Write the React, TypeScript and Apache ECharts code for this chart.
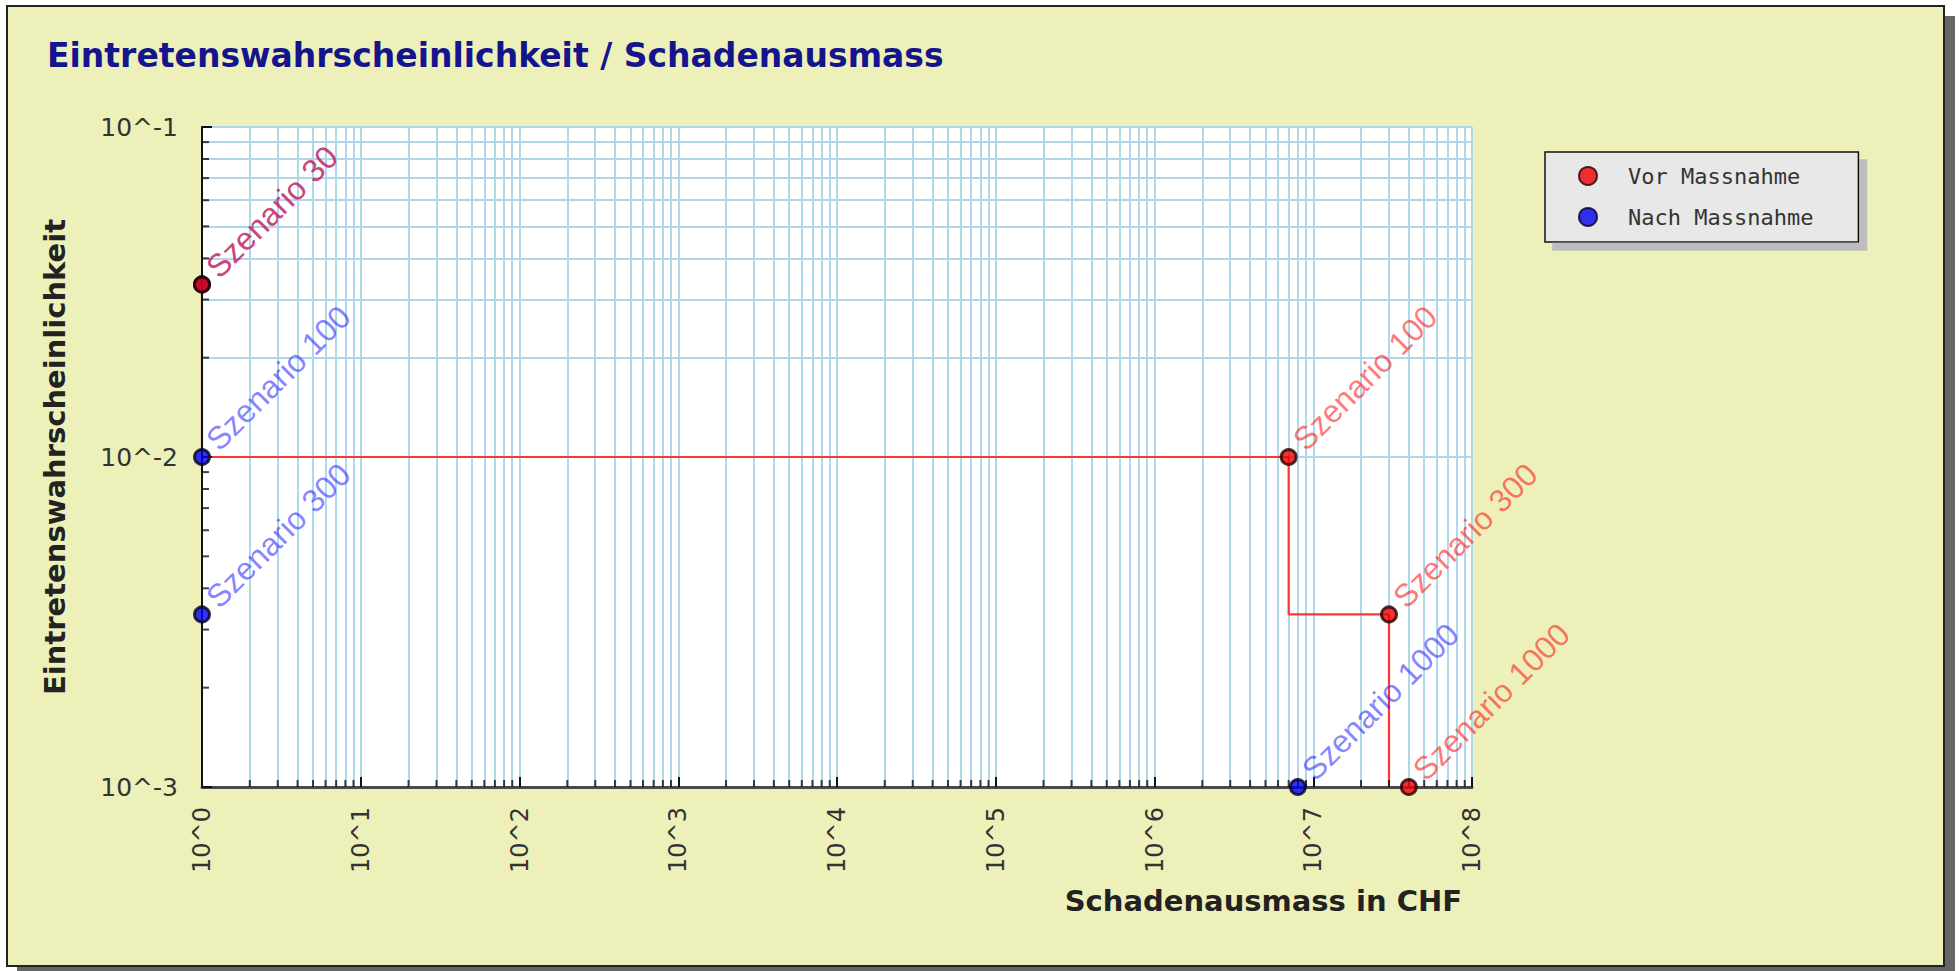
import React, { useEffect, useRef } from "react";
import * as echarts from "echarts";

// ---- data ----
const scenarios = ["Szenario 30", "Szenario 100", "Szenario 300", "Szenario 1000"];
const probability = [1 / 30, 1 / 100, 1 / 300, 1 / 1000];
const damageBefore = [1, 7.0e6, 3.0e7, 4.0e7];
const damageAfter = [1, 1, 1, 8.0e6];

const xDecades = [1, 10, 100, 1e3, 1e4, 1e5, 1e6, 1e7, 1e8];
const xTickLabels = ["10^0", "10^1", "10^2", "10^3", "10^4", "10^5", "10^6", "10^7", "10^8"];
const yDecades = [0.001, 0.01, 0.1];
const yTickLabels = ["10^-3", "10^-2", "10^-1"];
const minorSteps = [2, 3, 4, 5, 6, 7, 8, 9];

const xMinor = xDecades.slice(0, -1).flatMap((d) => minorSteps.map((s) => s * d));
const yMinor = yDecades.slice(0, -1).flatMap((d) => minorSteps.map((s) => s * d));

const labelFor = (decades: number[], labels: string[]) => (v: number) => {
  let best = 0;
  for (let i = 0; i < decades.length; i++) {
    if (Math.abs(Math.log10(decades[i]) - Math.log10(v)) < Math.abs(Math.log10(decades[best]) - Math.log10(v))) best = i;
  }
  return labels[best];
};

export default function App() {
  const ref = useRef<HTMLDivElement>(null);
  useEffect(() => {
    if (!ref.current) return;
    const chart = echarts.init(ref.current, undefined, { renderer: "svg" });
    const gridColor = "#acd8e8";
    const pointLabel = (color: string) => ({
      show: true,
      formatter: "{b}",
      position: [30, 8],
      rotate: 45,
      align: "left",
      verticalAlign: "bottom",
      color,
      fontFamily: "Liberation Sans",
      fontSize: 32,
    });
    chart.setOption({
      animation: false,
      backgroundColor: "#ffffff",
      title: {
        text: "Eintretenswahrscheinlichkeit / Schadenausmass",
        left: 47,
        top: 39,
        padding: 0,
        textStyle: { color: "#14148c", fontFamily: "DejaVu Sans", fontWeight: "bold", fontSize: 33 },
      },
      graphic: [
        { type: "rect", z: -10, silent: true, shape: { x: 17, y: 16, width: 1938, height: 960 }, style: { fill: "#666666" } },
        {
          type: "rect",
          z: -9,
          silent: true,
          shape: { x: 7, y: 6, width: 1937, height: 960 },
          style: { fill: "#edf1b9", stroke: "#222222", lineWidth: 2 },
        },
      ],
      legend: {
        orient: "vertical",
        left: 1545,
        top: 152,
        data: ["Vor Massnahme", "Nach Massnahme"],
        icon: "circle",
        itemWidth: 18,
        itemHeight: 18,
        itemGap: 17,
        padding: [12, 45, 13, 33],
        backgroundColor: "#e8e8e8",
        borderColor: "#111111",
        borderWidth: 1.5,
        borderRadius: 0,
        shadowColor: "#bdbdbd",
        shadowBlur: 0,
        shadowOffsetX: 8,
        shadowOffsetY: 8,
        textStyle: {
          fontFamily: "DejaVu Sans Mono",
          fontSize: 22,
          lineHeight: 24,
          color: "#333333",
          padding: [0, 0, 0, 26],
        },
      },
      grid: { left: 202, top: 127, width: 1270, height: 660, show: true, backgroundColor: "#ffffff", borderWidth: 0, containLabel: false, outerBoundsMode: "none" },
      xAxis: {
        type: "log",
        logBase: 10,
        min: 1,
        max: 1e8,
        splitNumber: 8,
        z: 3,
        name: "Schadenausmass in CHF",
        nameLocation: "end",
        nameGap: -10,
        nameMoveOverlap: false,
        nameTextStyle: {
          align: "right",
          verticalAlign: "top",
          padding: [99, 0, 0, 0],
          fontFamily: "DejaVu Sans",
          fontWeight: "bold",
          fontSize: 29,
          color: "#222222",
        },
        axisLine: { show: true, lineStyle: { color: "#4a4a4a", width: 3 } },
        axisTick: { show: true, inside: true, length: 10, customValues: xDecades, lineStyle: { color: "#111111", width: 2 } },
        axisLabel: {
          customValues: xDecades,
          rotate: 90,
          margin: 20,
          formatter: labelFor(xDecades, xTickLabels),
          fontFamily: "DejaVu Sans",
          fontSize: 24,
          color: "#333333",
        },
        splitLine: { show: false },
      },
      yAxis: {
        type: "log",
        logBase: 10,
        min: 0.001,
        max: 0.1,
        splitNumber: 2,
        z: 3,
        name: "Eintretenswahrscheinlichkeit",
        nameLocation: "middle",
        nameRotate: 90,
        nameGap: 133,
        nameTextStyle: { fontFamily: "DejaVu Sans", fontWeight: "bold", fontSize: 29, color: "#222222" },
        axisLine: { show: true, lineStyle: { color: "#111111", width: 2 } },
        axisTick: { show: true, inside: true, length: 10, customValues: yDecades, lineStyle: { color: "#111111", width: 2 } },
        axisLabel: {
          customValues: yDecades,
          margin: 24,
          formatter: labelFor(yDecades, yTickLabels),
          fontFamily: "DejaVu Sans",
          fontSize: 25,
          color: "#333333",
        },
        splitLine: { show: false },
      },
      series: [
        {
          name: "minor ticks",
          type: "scatter",
          z: 3,
          silent: true,
          symbol: "rect",
          itemStyle: { color: "#111111" },
          data: [
            ...xMinor.map((v) => ({ value: [v, yDecades[0]], symbolSize: [2, 7], symbolOffset: [0, -3.5] })),
            ...yMinor.map((v) => ({ value: [xDecades[0], v], symbolSize: [7, 2], symbolOffset: [3.5, 0] })),
          ],
          markLine: {
            silent: true,
            z: 1,
            symbol: ["none", "none"],
            label: { show: false },
            lineStyle: { color: gridColor, width: 2, type: "solid" },
            emphasis: { disabled: true },
            data: [
              ...[...xDecades, ...xMinor].map((v) => ({ xAxis: v })),
              ...[...yDecades, ...yMinor].map((v) => ({ yAxis: v })),
            ],
          },
        },
        {
          name: "Vor Massnahme Linie",
          type: "line",
          z: 2,
          step: "start",
          silent: true,
          showSymbol: false,
          symbol: "none",
          lineStyle: { color: "#ff3535", width: 2.2 },
          data: damageBefore.map((x, i) => [x, probability[i]]),
        },
        {
          name: "Nach Massnahme",
          type: "scatter",
          z: 4,
          symbol: "circle",
          symbolSize: 15,
          itemStyle: { color: "#0000ee", borderColor: "#000022", borderWidth: 3 },
          label: pointLabel("rgba(40,40,255,0.72)"),
          data: damageAfter.map((x, i) => ({ name: scenarios[i], value: [x, probability[i]] })),
        },
        {
          name: "Vor Massnahme",
          type: "scatter",
          z: 5,
          symbol: "circle",
          symbolSize: 15,
          itemStyle: { color: "#ee0000", borderColor: "#220000", borderWidth: 3 },
          label: pointLabel("rgba(255,30,30,0.75)"),
          data: damageBefore.map((x, i) => ({ name: scenarios[i], value: [x, probability[i]] })),
        },
      ],
    });
    return () => chart.dispose();
  }, []);
  return <div ref={ref} style={{ position: "absolute", left: 0, top: 0, width: 1959, height: 971 }} />;
}
